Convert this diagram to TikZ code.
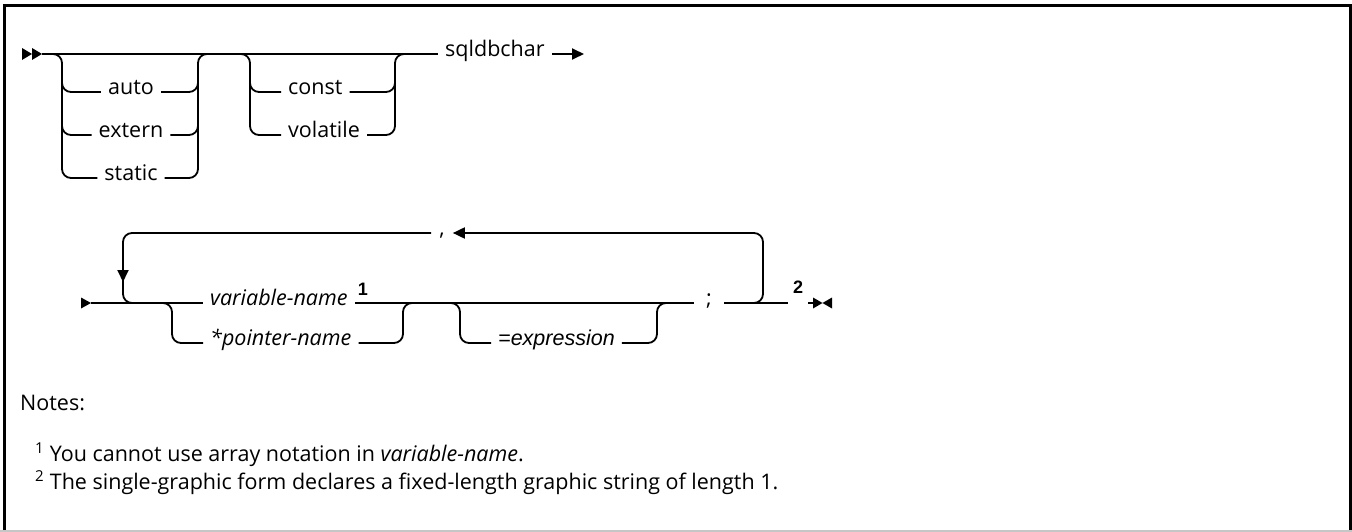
\documentclass[tikz,border=0pt]{standalone}
\usepackage{fontspec}
\setmainfont{Open Sans}
\newfontfamily\railfont{Open Sans}
\newfontfamily\exprfont{Liberation Sans}
\usetikzlibrary{calc,arrows.meta,positioning}
\definecolor{railc}{HTML}{000000}
\definecolor{edgec}{HTML}{C6C6C6}
\tikzset{
  rl/.style={line width=1.8pt,railc,rounded corners=9pt},
  tip/.style={-{Triangle[length=12pt,width=11pt]},line width=1.8pt,railc},
  kw/.style={font=\railfont\fontsize{21.5}{26}\selectfont,inner xsep=7pt,inner ysep=0pt,anchor=mid west},
  kwi/.style={kw,font=\railfont\itshape\fontsize{21.5}{26}\selectfont},
  kwe/.style={kw,font=\exprfont\itshape\fontsize{21.5}{26}\selectfont},
  fn/.style={font=\exprfont\bfseries\fontsize{18}{22}\selectfont,inner sep=1pt},
  nt/.style={font=\fontsize{21.5}{26}\selectfont,inner sep=0pt,anchor=base west}
}
\begin{document}
\begin{tikzpicture}[x=1pt,y=-1pt]
\useasboundingbox (0,0) rectangle (1352,532);
\draw[line width=3pt] (4.5,532) -- (4.5,6) -- (1350,6) -- (1350,532);
\draw[edgec,line width=2pt] (0,531) -- (1352,531);
% first row
\foreach \xx in {22,32} \fill[railc] (\xx,48) -- (\xx+10,54) -- (\xx,60) -- cycle;
\coordinate (s1) at (42,54);
\coordinate (aL) at (62,54); \coordinate (aR) at (198,54);
\coordinate (bL) at (250,54); \coordinate (bR) at (395,54);
\node[kw,anchor=mid] (auto) at (131,92) {auto};
\node[kw,anchor=mid] (extern) at (131,135) {extern};
\node[kw,anchor=mid] (static) at (131,178) {static};
\node[kw] (const) at (281,92) {const};
\node[kw] (volatile) at (281,135) {volatile};
\node[kw] (sq) at (438,54) {sqldbchar};
\coordinate (e1) at (584,54);
\draw[rl] (s1) -- (sq.mid west);
\draw[tip] (sq.mid east) -- (e1);
\draw[rl] ($(aL)+(-12,0)$) -- (aL) -- (aL |- static.mid) -- (static.mid west);
\draw[rl] (static.mid east) -- (aR |- static.mid) -- (aR) -- ($(aR)+(12,0)$);
\foreach \n in {auto,extern}{
  \draw[rl] ($(aL |- \n.mid)+(0,-14)$) -- (aL |- \n.mid) -- (\n.mid west);
  \draw[rl] (\n.mid east) -- (aR |- \n.mid) -- ($(aR |- \n.mid)+(0,-14)$);}
\draw[rl] ($(bL)+(-12,0)$) -- (bL) -- (bL |- volatile.mid) -- (volatile.mid west);
\draw[rl] (volatile.mid east) -- (bR |- volatile.mid) -- (bR) -- ($(bR)+(12,0)$);
\draw[rl] ($(bL |- const.mid)+(0,-14)$) -- (bL |- const.mid) -- (const.mid west);
\draw[rl] (const.mid east) -- (bR |- const.mid) -- ($(bR |- const.mid)+(0,-14)$);
% second row
\fill[railc] (81,297.5) -- (91,303) -- (81,308.5) -- cycle;
\coordinate (s2) at (91,303);
\coordinate (lL) at (123,233); \coordinate (lR) at (763,233);
\coordinate (cL) at (172,303); \coordinate (cR) at (403,303);
\coordinate (dL) at (460,303); \coordinate (dR) at (657,303);
\node[kwi] (var) at (203,303) {variable-name};
\node[kwi] (ptr) at (203,343) {*pointer-name};
\node[fn] (n1) at (363,289) {1};
\node[kwe] (expr) at (491,343) {=expression};
\node[kw,anchor=mid,inner xsep=12pt] (semi) at (709,303) {;};
\node[kw,anchor=mid,inner xsep=8pt] (comma) at (442,233) {,};
\node[fn,inner xsep=5pt] (n2) at (798,287) {2};
\coordinate (e2) at (813,303);
\draw[rl] (s2) -- (var.mid west);
\draw[rl] (var.mid east) -- (semi.mid west);
\draw[rl] (semi.mid east) -- (n2.west |- semi.mid);
\draw[rl] (n2.east |- semi.mid) -- (e2);
\fill[railc] (e2) -- ++(0,-5.5) -- ++(19,11) -- ++(0,-11) -- ++(-19,11) -- cycle;
\draw[rl] ($(cL)+(-12,0)$) -- (cL) -- (cL |- ptr.mid) -- (ptr.mid west);
\draw[rl] (ptr.mid east) -- (cR |- ptr.mid) -- (cR) -- ($(cR)+(12,0)$);
\draw[rl] ($(dL)+(-12,0)$) -- (dL) -- (dL |- expr.mid) -- (expr.mid west);
\draw[rl] (expr.mid east) -- (dR |- expr.mid) -- (dR) -- ($(dR)+(12,0)$);
\draw[rl,-{Triangle[length=12pt,width=11pt]}] ($(lR |- s2)+(-12,0)$) -- (lR |- s2) -- (lR) -- (comma.mid east);
\draw[rl] (comma.mid west) -- (lL) -- (lL |- s2) -- ($(lL |- s2)+(12,0)$);
\draw[tip] ($(lL)+(0,25)$) -- ($(lL)+(0,49)$);
% notes
\node[nt] (notes) at (20,410) {Notes:};
\node[nt] (note1) at (35,461) {\textsuperscript{1} You cannot use array notation in \textit{variable-name}.};
\node[nt] (note2) at (35,489) {\textsuperscript{2} The single-graphic form declares a fixed-length graphic string of length 1.};
\end{tikzpicture}
\end{document}
